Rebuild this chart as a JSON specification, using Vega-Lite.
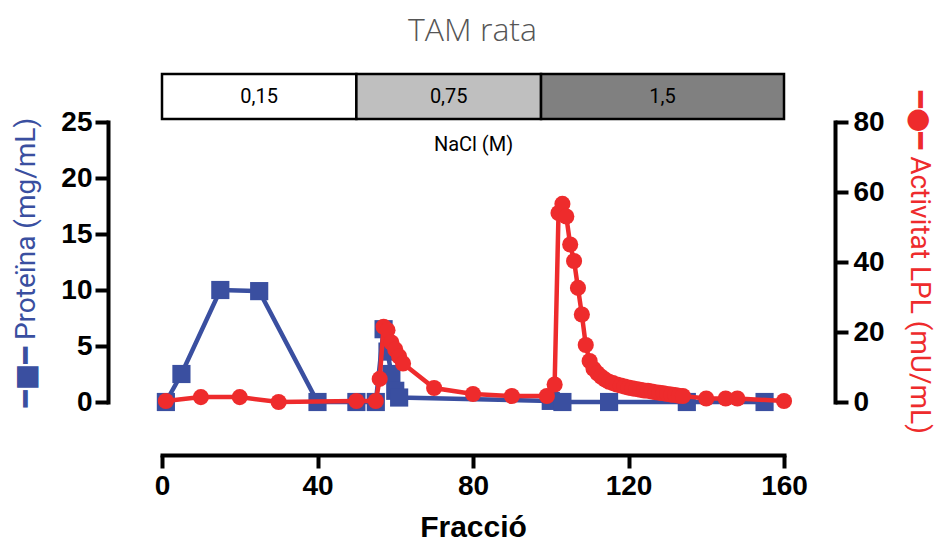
{
  "$schema": "https://vega.github.io/schema/vega-lite/v6.json",
  "background": "white",
  "padding": {"left": 12, "top": 14, "right": 5, "bottom": 0},
  "title": {"text": "TAM rata", "font": "Open Sans", "fontWeight": 300, "fontSize": 32, "color": "#555555", "anchor": "middle", "offset": 25},
  "bounds": "flush",
  "spacing": 3,
  "config": {"view": {"stroke": null}, "axis": {"grid": false, "labelFlush": false}},
  "datasets": {
    "nacl": [
      {"inici": 0, "fi": 50, "nacl": "0,15"},
      {"inici": 50, "fi": 97.5, "nacl": "0,75"},
      {"inici": 97.5, "fi": 160, "nacl": "1,5"}
    ],
    "proteina": [
      {"fraccio": 1, "valor": 0},
      {"fraccio": 5, "valor": 2.5},
      {"fraccio": 15, "valor": 10},
      {"fraccio": 25, "valor": 9.9},
      {"fraccio": 40, "valor": 0},
      {"fraccio": 50, "valor": 0},
      {"fraccio": 55, "valor": 0},
      {"fraccio": 57, "valor": 6.5},
      {"fraccio": 58, "valor": 4.5},
      {"fraccio": 59, "valor": 2.5},
      {"fraccio": 60, "valor": 1.0},
      {"fraccio": 61, "valor": 0.4},
      {"fraccio": 100, "valor": 0.1},
      {"fraccio": 103, "valor": 0},
      {"fraccio": 115, "valor": 0},
      {"fraccio": 135, "valor": 0},
      {"fraccio": 155, "valor": 0}
    ],
    "activitat": [
      {"fraccio": 1, "valor": 0.3},
      {"fraccio": 10, "valor": 1.4},
      {"fraccio": 20, "valor": 1.4},
      {"fraccio": 30, "valor": 0},
      {"fraccio": 50, "valor": 0.3},
      {"fraccio": 55, "valor": 0.3},
      {"fraccio": 56, "valor": 6.6},
      {"fraccio": 57, "valor": 21.5},
      {"fraccio": 58, "valor": 20.5},
      {"fraccio": 59, "valor": 17},
      {"fraccio": 60, "valor": 15},
      {"fraccio": 61, "valor": 13},
      {"fraccio": 62, "valor": 11},
      {"fraccio": 70, "valor": 4},
      {"fraccio": 80, "valor": 2.3},
      {"fraccio": 90, "valor": 1.7},
      {"fraccio": 99, "valor": 1.7},
      {"fraccio": 101, "valor": 5},
      {"fraccio": 102, "valor": 54},
      {"fraccio": 103, "valor": 56.6},
      {"fraccio": 104, "valor": 53},
      {"fraccio": 105, "valor": 45},
      {"fraccio": 106, "valor": 40.3},
      {"fraccio": 107, "valor": 32.6},
      {"fraccio": 108, "valor": 25},
      {"fraccio": 109, "valor": 16.3},
      {"fraccio": 110, "valor": 11.7},
      {"fraccio": 111, "valor": 9.5},
      {"fraccio": 112, "valor": 8.2},
      {"fraccio": 113, "valor": 7.2},
      {"fraccio": 114, "valor": 6.4},
      {"fraccio": 115, "valor": 5.8},
      {"fraccio": 116, "valor": 5.4},
      {"fraccio": 117, "valor": 5.0},
      {"fraccio": 118, "valor": 4.7},
      {"fraccio": 119, "valor": 4.4},
      {"fraccio": 120, "valor": 4.1},
      {"fraccio": 121, "valor": 3.9},
      {"fraccio": 122, "valor": 3.7},
      {"fraccio": 123, "valor": 3.5},
      {"fraccio": 124, "valor": 3.3},
      {"fraccio": 125, "valor": 3.2},
      {"fraccio": 126, "valor": 3.0},
      {"fraccio": 127, "valor": 2.8},
      {"fraccio": 128, "valor": 2.6},
      {"fraccio": 129, "valor": 2.5},
      {"fraccio": 130, "valor": 2.3},
      {"fraccio": 131, "valor": 2.1},
      {"fraccio": 132, "valor": 2.0},
      {"fraccio": 133, "valor": 1.8},
      {"fraccio": 134, "valor": 1.7},
      {"fraccio": 140, "valor": 1.0},
      {"fraccio": 145, "valor": 1.0},
      {"fraccio": 148, "valor": 1.0},
      {"fraccio": 160, "valor": 0.3}
    ]
  },
  "vconcat": [
    {
      "width": 622,
      "height": 45,
      "data": {"name": "nacl"},
      "transform": [{"calculate": "(datum.inici + datum.fi) / 2", "as": "mig"}],
      "layer": [
        {
          "mark": {"type": "rect", "stroke": "black", "strokeWidth": 2.5},
          "encoding": {
            "x": {"field": "inici", "type": "quantitative", "scale": {"domain": [0, 160], "nice": false, "zero": false},
              "axis": {"title": "NaCl (M)", "domain": false, "ticks": false, "labels": false, "titleFont": "Roboto", "titleFontSize": 20, "titleFontWeight": "normal", "titleColor": "black", "titlePadding": 15}},
            "x2": {"field": "fi"},
            "color": {"field": "nacl", "type": "nominal", "scale": {"domain": ["0,15", "0,75", "1,5"], "range": ["#ffffff", "#bfbfbf", "#808080"]}, "legend": null}
          }
        },
        {
          "mark": {"type": "text", "font": "Roboto", "fontSize": 20, "color": "black"},
          "encoding": {
            "x": {"field": "mig", "type": "quantitative"},
            "text": {"field": "nacl", "type": "nominal"}
          }
        }
      ]
    },
    {
      "width": 622,
      "height": 280,
      "layer": [
        {
          "data": {"name": "proteina"},
          "encoding": {
            "x": {"field": "fraccio", "type": "quantitative", "scale": {"domain": [0, 160], "nice": false},
              "axis": {"offset": 53, "values": [0, 40, 80, 120, 160], "domainWidth": 4, "domainColor": "black", "domainCap": "square", "tickWidth": 4, "tickSize": 13, "tickColor": "black", "labelFont": "Liberation Sans", "labelFontWeight": "bold", "labelFontSize": 28, "labelColor": "black", "labelPadding": 4, "title": "Fracció", "titleFont": "Liberation Sans", "titleFontSize": 30, "titleFontWeight": "bold", "titleColor": "black", "titlePadding": 12}},
            "y": {"field": "valor", "type": "quantitative", "scale": {"domain": [0, 25], "nice": false},
              "axis": {"orient": "left", "offset": 54, "values": [0, 5, 10, 15, 20, 25], "domainWidth": 4, "domainColor": "black", "domainCap": "square", "tickWidth": 4, "tickSize": 13, "tickColor": "black", "labelFont": "Liberation Sans", "labelFontWeight": "bold", "labelFontSize": 28, "labelColor": "black", "labelPadding": 3, "title": "━■━ Proteïna (mg/mL)", "titleFont": "Roboto, DejaVu Sans", "titleFontSize": 28, "titleFontWeight": "normal", "titleColor": "#3a4fa0", "titlePadding": 20}}
          },
          "layer": [
            {"mark": {"type": "line", "color": "#3a4fa0", "strokeWidth": 4.5}},
            {"mark": {"type": "point", "shape": "square", "filled": true, "size": 330, "color": "#3a4fa0", "opacity": 1}}
          ]
        },
        {
          "data": {"name": "activitat"},
          "encoding": {
            "x": {"field": "fraccio", "type": "quantitative"},
            "y": {"field": "valor", "type": "quantitative", "scale": {"domain": [0, 80], "nice": false},
              "axis": {"orient": "right", "offset": 51, "values": [0, 20, 40, 60, 80], "domainWidth": 4, "domainColor": "black", "domainCap": "square", "tickWidth": 4, "tickSize": 13, "tickColor": "black", "labelFont": "Liberation Sans", "labelFontWeight": "bold", "labelFontSize": 28, "labelColor": "black", "labelPadding": 5, "title": "━●━ Activitat LPL (mU/mL)", "titleFont": "Roboto, DejaVu Sans", "titleFontSize": 28, "titleFontWeight": "normal", "titleColor": "#ee2b2c", "titlePadding": 20}}
          },
          "layer": [
            {"mark": {"type": "line", "color": "#ee2b2c", "strokeWidth": 4.5}},
            {"mark": {"type": "point", "shape": "circle", "filled": true, "size": 260, "color": "#ee2b2c", "opacity": 1}}
          ]
        }
      ],
      "resolve": {"scale": {"y": "independent"}}
    }
  ]
}
